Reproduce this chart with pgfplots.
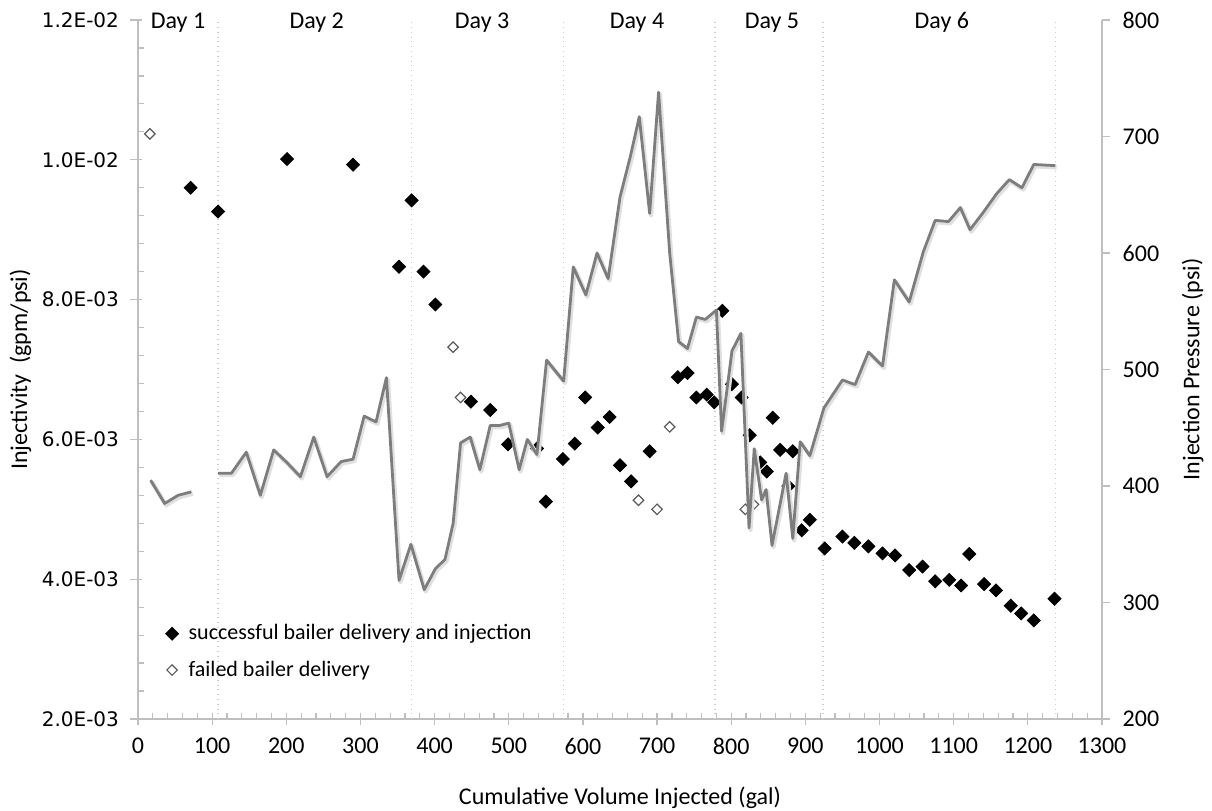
\documentclass[border=0pt]{standalone}
\usepackage{pgfplots}
\pgfplotsset{compat=1.18}
\usepackage{fontspec}
\setmainfont{Carlito}
\newfontfamily\verdana{DejaVu Sans}
\definecolor{axgray}{RGB}{191,191,191}
\definecolor{linegray}{RGB}{125,125,125}
\definecolor{gridgray}{RGB}{205,205,205}
\definecolor{opengray}{RGB}{90,90,90}
\begin{document}
\begin{tikzpicture}
\useasboundingbox (-69pt,-45.5pt) rectangle (537pt,359.5pt);
\begin{axis}[
  scale only axis, width=482pt, height=349.5pt,
  xmin=0, xmax=1300, ymin=0.002, ymax=0.012,
  axis x line*=bottom, axis y line*=left,
  axis line style={axgray, line width=0.7pt},
  xtick={0,100,...,1300},
  minor x tick num=4,
  ytick={0.002,0.004,0.006,0.008,0.010,0.012},
  yticklabels={2.0E-03,4.0E-03,6.0E-03,8.0E-03,1.0E-02,1.2E-02},
  minor y tick num=4,
  scaled y ticks=false,
  tick style={axgray, line width=0.6pt},
  tick align=inside,
  major tick length=6pt, minor tick length=2.8pt,
  major x tick style={yshift=-3pt},
  major y tick style={xshift=-4pt},
  xticklabel style={font=\fontsize{12}{14}\selectfont, yshift=-6pt},
  yticklabel style={font=\verdana\fontsize{10}{12}\selectfont, xshift=-6pt},
  /pgf/number format/assume math mode=true,
  /pgf/number format/1000 sep={},
  xlabel={Cumulative Volume Injected (gal)},
  xlabel style={at={(axis description cs:0.5,-0.113)}, anchor=center, font=\fontsize{12}{14}\selectfont},
  ylabel={Injectivity\ \ (gpm/psi)},
  ylabel style={at={(axis description cs:-0.122,0.5)}, anchor=center, font=\fontsize{12}{14}\selectfont},
  extra x ticks={108,369,574,778,924,1237},
  extra x tick labels={},
  extra x tick style={grid=major, major grid style={gridgray, dotted, line width=0.7pt}, major tick length=0pt},
  clip=false,
  legend style={at={(axis description cs:0.022,0.045)}, anchor=south west, draw=none, fill=none,
    font=\fontsize{11}{13}\selectfont, row sep=5pt,
    /tikz/every odd column/.append style={column sep=3pt}},
  legend cell align=left,
]
\addplot[only marks, mark=square*, mark size=2.3pt, mark options={rotate=45, fill=black, draw=black}] table {
x y
71 0.00960
108 0.00926
201 0.01001
290 0.00993
352 0.00847
369 0.00942
385 0.00840
401 0.00793
449 0.00654
475 0.00642
499 0.00593
538 0.00587
550 0.00511
573 0.00572
589 0.00594
603 0.00660
620 0.00617
636 0.00632
650 0.00563
665 0.00540
690 0.00583
728 0.00689
741 0.00695
753 0.00660
767 0.00664
777 0.00653
788 0.00784
801 0.00679
814 0.00660
825 0.00606
839 0.00567
848 0.00554
856 0.00631
866 0.00585
877 0.00533
883 0.00583
895 0.00470
906 0.00485
926 0.00444
950 0.00461
966 0.00452
985 0.00447
1004 0.00437
1021 0.00434
1040 0.00413
1058 0.00418
1075 0.00397
1094 0.00399
1110 0.00391
1121 0.00436
1141 0.00393
1157 0.00384
1177 0.00362
1191 0.00351
1208 0.00341
1236 0.00372
};
\addlegendentry{successful bailer delivery and injection}
\addplot[only marks, mark=square*, mark size=1.85pt, mark options={rotate=45, fill=white, draw=opengray, line width=0.6pt}] table {
x y
16 0.01037
425 0.00732
435 0.00660
675 0.00513
700 0.00500
717 0.00618
819 0.00500
830 0.00507
};
\addlegendentry{failed bailer delivery}
\node[anchor=base, font=\fontsize{12}{14}\selectfont] at (axis cs:54,0.012) [yshift=-4.4pt] {Day 1};
\node[anchor=base, font=\fontsize{12}{14}\selectfont] at (axis cs:241,0.012) [yshift=-4.4pt] {Day 2};
\node[anchor=base, font=\fontsize{12}{14}\selectfont] at (axis cs:464,0.012) [yshift=-4.4pt] {Day 3};
\node[anchor=base, font=\fontsize{12}{14}\selectfont] at (axis cs:673,0.012) [yshift=-4.4pt] {Day 4};
\node[anchor=base, font=\fontsize{12}{14}\selectfont] at (axis cs:855,0.012) [yshift=-4.4pt] {Day 5};
\node[anchor=base, font=\fontsize{12}{14}\selectfont] at (axis cs:1084,0.012) [yshift=-4.4pt] {Day 6};
\end{axis}
\begin{axis}[
  scale only axis, width=482pt, height=349.5pt,
  xmin=0, xmax=1300, ymin=200, ymax=800,
  axis x line=none, axis y line*=right,
  axis line style={axgray, line width=0.7pt},
  ytick={200,300,...,800},
  tick style={axgray, line width=0.6pt},
  tick align=outside, major tick length=3.8pt,
  yticklabel style={font=\fontsize{12}{14}\selectfont, xshift=3pt},
  /pgf/number format/assume math mode=true,
  ylabel={Injection Pressure (psi)},
  ylabel style={at={(axis description cs:1.094,0.5)}, anchor=center, rotate=0, font=\fontsize{12}{14}\selectfont},
  unbounded coords=jump,
  clip=false,
]
\addplot[linegray, line width=1.4pt, line join=round,
  preaction={draw, black!12, line width=2.2pt, transform canvas={xshift=0.7pt, yshift=-0.9pt}}] table {
x y
17 405
36 385
54 392
72 395
90 nan
108 411
126 411
146 429
165 392
183 431
201 420
219 408
237 442
255 408
274 421
290 423
305 460
321 455
335 493
352 319
368 350
386 311
401 329
414 337
425 368
435 437
448 442
461 414
475 452
488 452
500 454
514 414
525 440
538 427
551 508
574 490
587 588
604 564
619 600
634 578
650 648
664 683
676 717
690 634
702 738
717 600
729 524
741 518
753 545
765 543
780 551
787 447
801 516
813 531
824 364
831 432
841 388
847 397
855 349
874 411
883 355
893 438
906 426
925 467
950 491
967 487
985 515
1004 503
1020 577
1040 558
1059 601
1075 628
1093 627
1109 639
1122 620
1140 635
1158 651
1175 663
1192 656
1208 676
1237 675
};
\end{axis}
\end{tikzpicture}
\end{document}
